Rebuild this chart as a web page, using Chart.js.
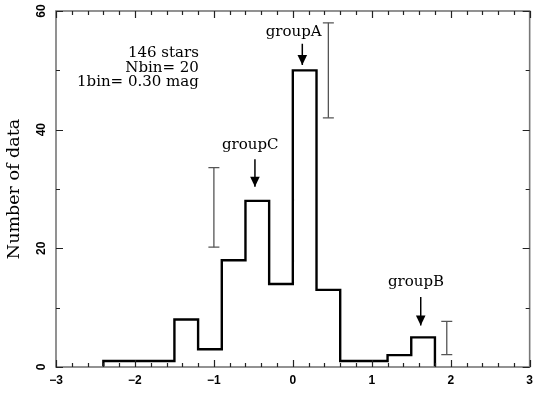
<!DOCTYPE html>
<html><head><meta charset="utf-8">
<script src="https://cdn.jsdelivr.net/npm/chart.js@4/dist/chart.umd.min.js"></script>
<style>html,body{margin:0;padding:0;background:#fff}#wrap{width:539px;height:393px}</style>
</head><body><div id="wrap"><canvas id="c" width="539" height="393"></canvas></div>
<script>
// ---- data ----
const binEdges = [-2.4,-2.1,-1.8,-1.5,-1.2,-0.9,-0.6,-0.3,0,0.3,0.6,0.9,1.2,1.5,1.8];
const binCounts = [1,1,1,8,3,18,28,14,50,13,1,1,2,5];
const errX = [-1.0, 0.45, 1.95];
const errLow = [20.2, 42, 2.1];
const errHigh = [33.6, 58, 7.7];
const groupNames = ['groupC','groupA','groupB'];
const arrowX = [-0.48, 0.12, 1.62];
const arrowTop = [35, 54.5, 11.8];
const arrowTip = [30.4, 50.9, 7.0];
const labelX = [-0.54, 0.01, 1.56];
const labelY = [36.7, 55.8, 13.6];
const infoLines = ['146 stars','Nbin= 20','1bin= 0.30 mag'];
const infoX = -1.19;              // right edge of info text (data units)
const infoY = [52.2, 49.7, 47.3]; // baselines (data units)
const yTickLabels = [0,20,40,60];
const axisTitleY = 'Number of data';

// ---- build datasets ----
const histPoints = [{x: binEdges[0], y: 0}];
binCounts.forEach((c,i)=>histPoints.push({x: binEdges[i], y: c}));
histPoints.push({x: binEdges[binEdges.length-1], y: binCounts[binCounts.length-1]});
histPoints.push({x: binEdges[binEdges.length-1], y: 0});

const datasets = [{
  data: histPoints, stepped: 'before', borderColor: '#000', borderWidth: 2.4,
  pointRadius: 0, fill: false, order: 0
}];
errX.forEach((x,i)=>datasets.push({
  data: [{x, y: errLow[i]},{x, y: errHigh[i]}], borderColor: '#555', borderWidth: 1.3,
  pointStyle: 'line', pointRadius: 5.5, pointBorderColor: '#555', pointBorderWidth: 1.3,
  pointHoverRadius: 5.5
}));
arrowX.forEach((x,i)=>datasets.push({
  data: [{x, y: arrowTop[i]},{x, y: arrowTip[i]}], borderColor: '#000', borderWidth: 1.5,
  pointRadius: 0
}));

const SERIF = '"DejaVu Serif", serif';
const SANS = '"Liberation Sans", Arial, sans-serif';

const deco = {
  id: 'deco',
  afterDatasetsDraw(chart){
    const {ctx, chartArea: ca, scales: {x, y}} = chart;
    ctx.save();
    // frame
    ctx.strokeStyle = '#777'; ctx.lineWidth = 1.6;
    ctx.strokeRect(ca.left, ca.top, ca.right-ca.left, ca.bottom-ca.top);
    // inward ticks
    ctx.strokeStyle = '#222'; ctx.lineWidth = 1.2;
    ctx.beginPath();
    x.ticks.forEach(t=>{
      const v = t.value, px = Math.round(x.getPixelForValue(v))+0.5;
      const major = Math.abs(v-Math.round(v))<1e-6;
      const len = major ? 7 : 4;
      ctx.moveTo(px, ca.bottom); ctx.lineTo(px, ca.bottom-len);
      ctx.moveTo(px, ca.top); ctx.lineTo(px, ca.top+len);
    });
    y.ticks.forEach(t=>{
      const v = t.value, py = Math.round(y.getPixelForValue(v))+0.5;
      const major = Math.abs(v/20-Math.round(v/20))<1e-6;
      const len = major ? 7 : 4;
      ctx.moveTo(ca.left, py); ctx.lineTo(ca.left+len, py);
      ctx.moveTo(ca.right, py); ctx.lineTo(ca.right-len, py);
    });
    ctx.stroke();
    // y tick labels (rotated)
    ctx.fillStyle = '#000'; ctx.font = 'bold 12px ' + SANS;
    ctx.textAlign = 'center'; ctx.textBaseline = 'middle';
    yTickLabels.forEach(v=>{
      ctx.save();
      ctx.translate(ca.left-14, y.getPixelForValue(v));
      ctx.rotate(-Math.PI/2);
      ctx.fillText(String(v), 0, 0);
      ctx.restore();
    });
    // arrow heads
    ctx.fillStyle = '#000';
    arrowX.forEach((xv,i)=>{
      const px = x.getPixelForValue(xv), py = y.getPixelForValue(arrowTip[i]);
      ctx.beginPath();
      ctx.moveTo(px-4.8, py-10); ctx.lineTo(px+4.8, py-10); ctx.lineTo(px, py); ctx.closePath();
      ctx.fill();
    });
    // group labels
    ctx.font = '15px ' + SERIF; ctx.textAlign = 'center'; ctx.textBaseline = 'alphabetic';
    groupNames.forEach((g,i)=>ctx.fillText(g, x.getPixelForValue(labelX[i]), y.getPixelForValue(labelY[i])));
    // info text
    ctx.textAlign = 'right';
    infoLines.forEach((s,i)=>ctx.fillText(s, x.getPixelForValue(infoX), y.getPixelForValue(infoY[i])));
    ctx.restore();
  }
};

new Chart(document.getElementById('c'), {
  type: 'line',
  data: {datasets},
  options: {
    responsive: false, animation: false, devicePixelRatio: 1,
    layout: {padding: {top: 11, right: 3, left: 0, bottom: 0}},
    plugins: {legend: {display: false}, tooltip: {enabled: false}},
    events: [],
    scales: {
      x: {
        type: 'linear', min: -3, max: 3,
        grid: {display: false, drawTicks: false}, border: {display: false},
        ticks: {
          stepSize: 0.2, autoSkip: false, maxRotation: 0, minRotation: 0, padding: 6,
          color: '#000', font: {family: SANS, size: 12, weight: 'bold'},
          callback: v => Math.abs(v-Math.round(v))<1e-6 ? String(Math.round(v)).replace('-', '\u2212') : ''
        },
        afterFit: s => { s.height = 26; }
      },
      y: {
        type: 'linear', min: 0, max: 60,
        grid: {display: false, drawTicks: false}, border: {display: false},
        ticks: {stepSize: 10, display: false},
        title: {display: true, text: axisTitleY, color: '#000', font: {family: SERIF, size: 17.5}, padding: {top: 4, bottom: 0}},
        afterFit: s => { s.width = 56; }
      }
    }
  },
  plugins: [deco]
});
</script>
</body></html>
